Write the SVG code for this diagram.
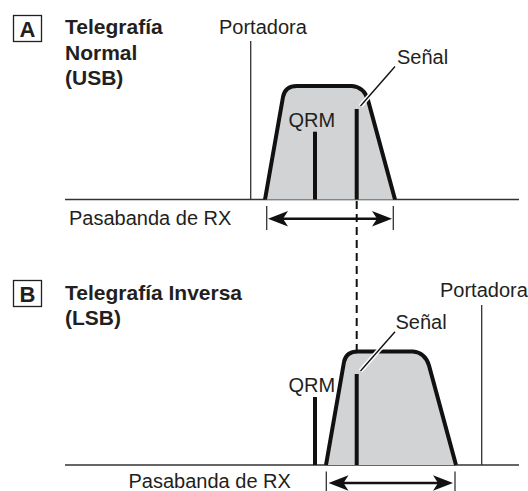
<svg xmlns="http://www.w3.org/2000/svg" width="528" height="491" viewBox="0 0 528 491">
<style>
text{font-family:"Liberation Sans",Arial,sans-serif;fill:#231f20}
.t{font-size:20px}
.b{font-size:21px;font-weight:bold}
.box{font-size:22px;font-weight:bold}
.thin{stroke:#333;stroke-width:1.3;fill:none}
.band{fill:#d1d3d4;stroke:#111;stroke-width:4;stroke-linejoin:round}
.sig{stroke:#111;stroke-width:4}
.arr{stroke:#111;stroke-width:2.5}
.halo{stroke:#fff;stroke-width:4.5}
.lead{stroke:#111;stroke-width:1.4}
.head{fill:#111}
</style>
<rect width="528" height="491" fill="#fff"/>
<g id="panelA-label">
<rect x="13.5" y="15.5" width="28" height="26" fill="none" stroke="#231f20" stroke-width="1.3"/>
<text class="box" x="27.5" y="37" text-anchor="middle">A</text>
<text class="b" x="65" y="34">Telegrafía</text>
<text class="b" x="65" y="59.5">Normal</text>
<text class="b" x="65" y="85">(USB)</text>
</g>
<g id="panelB-label">
<rect x="13.5" y="280.5" width="28" height="26" fill="none" stroke="#231f20" stroke-width="1.3"/>
<text class="box" x="27.5" y="302" text-anchor="middle">B</text>
<text class="b" x="65" y="299.5">Telegrafía Inversa</text>
<text class="b" x="65" y="324.5">(LSB)</text>
</g>
<g id="axisA">
<line class="thin" x1="65" y1="199.5" x2="519" y2="199.5"/>
<line class="thin" x1="250.7" y1="41" x2="250.7" y2="199.5"/>
<text class="t" x="219" y="34">Portadora</text>
</g>
<g id="bandA">
<path class="band" d="M265,199.5 L283,97 Q285,86 297,86 L352,86 Q364,87 368,100 L395,199.5"/>
</g>
<g id="qrmA">
<line class="sig" x1="315" y1="131.7" x2="315" y2="199.5"/>
<text class="t" x="288.5" y="127">QRM</text>
</g>
<g id="signalA">
<line class="sig" x1="356.7" y1="109" x2="356.7" y2="199.5"/>
<text class="t" x="397" y="64">Señal</text>
</g>
<g id="passbandA">
<text class="t" x="69" y="225">Pasabanda de RX</text>
<line class="thin" x1="266.7" y1="206" x2="266.7" y2="230"/>
<line class="thin" x1="393.3" y1="206" x2="393.3" y2="230"/>
</g>
<g id="axisB">
<line class="thin" x1="65" y1="465" x2="519" y2="465"/>
<line class="thin" x1="481.7" y1="305" x2="481.7" y2="465"/>
<text class="t" x="440" y="296.5">Portadora</text>
</g>
<g id="bandB">
<path class="band" d="M326,465 L344,362 Q346,351.5 358,351.5 L413,351.5 Q425,352.5 429,365.5 L456,465"/>
</g>
<g id="qrmB">
<line class="sig" x1="315" y1="397" x2="315" y2="465"/>
<text class="t" x="288.5" y="392">QRM</text>
</g>
<g id="signalB">
<line class="sig" x1="356.7" y1="374" x2="356.7" y2="465"/>
<text class="t" x="395.5" y="328.5">Señal</text>
</g>
<g id="passbandB">
<text class="t" x="128.5" y="488">Pasabanda de RX</text>
<line class="thin" x1="326.3" y1="471.5" x2="326.3" y2="491"/>
<line class="thin" x1="455" y1="471.5" x2="455" y2="491"/>
</g>
<g id="connectors">
<line x1="356.7" y1="201" x2="356.7" y2="351" stroke="#111" stroke-width="2" stroke-dasharray="8 5"/>
<line class="halo" x1="395" y1="66.5" x2="360.5" y2="106"/>
<line class="lead" x1="395" y1="66.5" x2="360.5" y2="106"/>
<line class="halo" x1="395" y1="331.7" x2="360.5" y2="371"/>
<line class="lead" x1="395" y1="331.7" x2="360.5" y2="371"/>
<line class="arr" x1="280" y1="218.7" x2="380" y2="218.7"/>
<polygon class="head" points="268,218.7 288,211 283,218.7 288,226.4"/>
<polygon class="head" points="392,218.7 372,211 377,218.7 372,226.4"/>
<line class="arr" x1="340" y1="483" x2="441" y2="483"/>
<polygon class="head" points="328.5,483 348.5,475.3 343.5,483 348.5,490.7"/>
<polygon class="head" points="453,483 433,475.3 438,483 433,490.7"/>
</g>
</svg>
